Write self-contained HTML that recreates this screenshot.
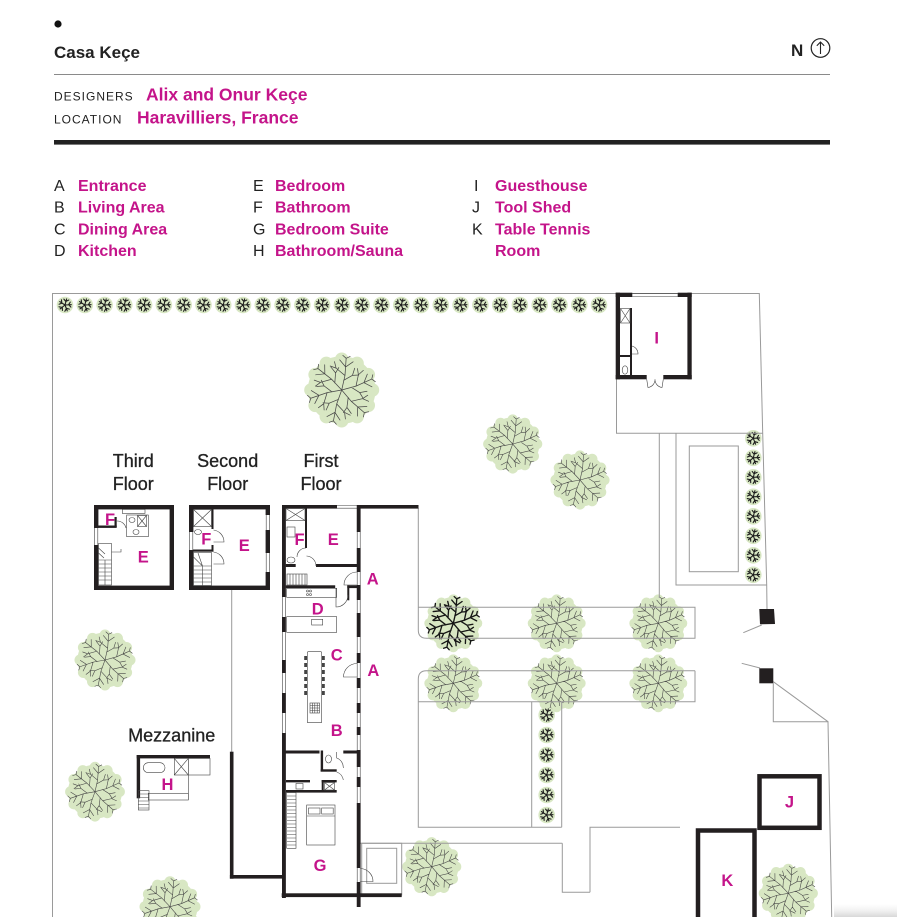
<!DOCTYPE html>
<html><head><meta charset="utf-8"><style>
html,body{margin:0;padding:0;background:#fff;}
svg{display:block;}
text{font-family:"Liberation Sans",sans-serif;}
</style></head><body>
<svg width="897" height="917" viewBox="0 0 897 917" xmlns="http://www.w3.org/2000/svg">
<defs>
<g id="br" fill="none" stroke-linecap="round">
<path d="M0 0 L1 -12 L0 -26 M1 -12 L-7 -17 L-9 -22 M-7 -17 L-12 -18 M0.5 -8 L7 -13 L8 -19 M7 -13 L12 -14 M0.6 -19 L-5 -24 M0.6 -19 L6 -24 M0 -26 L-3 -28 M0 -26 L3 -28"/>
</g>
<g id="blob" fill="#d8e7c3">
<circle r="27.5"/>
<circle cx="0" cy="-25" r="5.5"/><circle cx="12.5" cy="-21.6" r="5.5"/><circle cx="21.6" cy="-12.5" r="5.5"/><circle cx="25" cy="0" r="5.5"/>
<circle cx="21.6" cy="12.5" r="5.5"/><circle cx="12.5" cy="21.6" r="5.5"/><circle cx="0" cy="25" r="5.5"/><circle cx="-12.5" cy="21.6" r="5.5"/>
<circle cx="-21.6" cy="12.5" r="5.5"/><circle cx="-25" cy="0" r="5.5"/><circle cx="-21.6" cy="-12.5" r="5.5"/><circle cx="-12.5" cy="-21.6" r="5.5"/>
</g>
<g id="tree">
<use href="#blob"/>
<g stroke="#474747" stroke-width="0.6">
<use href="#br" transform="rotate(8)"/><use href="#br" transform="rotate(70)"/><use href="#br" transform="rotate(135)"/>
<use href="#br" transform="rotate(195)"/><use href="#br" transform="rotate(255)"/><use href="#br" transform="rotate(312)"/>
</g>
</g>
<g id="treeD">
<use href="#blob"/>
<g stroke="#151515" stroke-width="1.4">
<use href="#br" transform="rotate(8)"/><use href="#br" transform="rotate(70)"/><use href="#br" transform="rotate(135)"/>
<use href="#br" transform="rotate(195)"/><use href="#br" transform="rotate(255)"/><use href="#br" transform="rotate(312)"/>
</g>
</g>
<g id="sb"><path d="M0 0 L0 -6.3 M0 -3.5 L-2.6 -5.4 M0 -3.8 L2.4 -5.8"/></g>
<g id="sh">
<circle r="8.3" fill="#d8e7c3"/>
<g stroke="#1d1d1d" stroke-width="1.1" fill="none" stroke-linecap="round">
<use href="#sb" transform="rotate(15)"/><use href="#sb" transform="rotate(87)"/><use href="#sb" transform="rotate(159)"/><use href="#sb" transform="rotate(231)"/><use href="#sb" transform="rotate(303)"/>
</g>
</g>
<linearGradient id="shd" x1="0" y1="0" x2="0" y2="1">
<stop offset="0" stop-color="#ececec" stop-opacity="0"/>
<stop offset="1" stop-color="#d8d8d8" stop-opacity="1"/>
</linearGradient>
</defs>

<!-- HEADER -->
<circle cx="58" cy="24" r="3.6" fill="#111"/>
<text x="54" y="58" font-size="17" font-weight="bold" fill="#222">Casa Keçe</text>
<text x="791" y="56" font-size="17" font-weight="bold" fill="#222">N</text>
<circle cx="820.5" cy="48" r="9.3" fill="none" stroke="#222" stroke-width="1.2"/>
<path d="M820.5 54 V42 M816.8 45.8 L820.5 42 L824.2 45.8" fill="none" stroke="#222" stroke-width="1.1"/>
<line x1="54" y1="74.5" x2="830" y2="74.5" stroke="#8a8a8a" stroke-width="1"/>
<text x="54" y="100.7" font-size="12" letter-spacing="1" fill="#222">DESIGNERS</text>
<text x="146" y="100.7" font-size="17.5" font-weight="bold" fill="#c4148a">Alix and Onur Keçe</text>
<text x="54" y="123.3" font-size="12" letter-spacing="1" fill="#222">LOCATION</text>
<text x="137" y="123.3" font-size="17.5" font-weight="bold" fill="#c4148a">Haravilliers, France</text>
<rect x="54" y="140" width="776" height="4.6" fill="#222"/>

<!-- LEGEND -->
<g font-size="16" fill="#222">
<text x="54" y="191">A</text><text x="54" y="212.7">B</text><text x="54" y="234.3">C</text><text x="54" y="256">D</text>
<text x="253" y="191">E</text><text x="253" y="212.7">F</text><text x="253" y="234.3">G</text><text x="253" y="256">H</text>
<text x="474" y="191">I</text><text x="472" y="212.7">J</text><text x="472" y="234.3">K</text>
</g>
<g font-size="16" font-weight="bold" fill="#c4148a">
<text x="78" y="191">Entrance</text><text x="78" y="212.7">Living Area</text><text x="78" y="234.3">Dining Area</text><text x="78" y="256">Kitchen</text>
<text x="275" y="191">Bedroom</text><text x="275" y="212.7">Bathroom</text><text x="275" y="234.3">Bedroom Suite</text><text x="275" y="256">Bathroom/Sauna</text>
<text x="495" y="191">Guesthouse</text><text x="495" y="212.7">Tool Shed</text><text x="495" y="234.3">Table Tennis</text><text x="495" y="256">Room</text>
</g>

<!-- TREES -->
<use href="#tree" transform="translate(341.7,390) scale(1.23)"/>
<use href="#tree" transform="translate(512.7,444) scale(0.97)"/>
<use href="#tree" transform="translate(580,480) scale(0.97)"/>
<use href="#tree" transform="translate(105,660) scale(1)"/>
<use href="#tree" transform="translate(95,791.7) scale(0.98)"/>
<use href="#tree" transform="translate(170,906.7) scale(1)"/>
<use href="#treeD" transform="translate(453.3,623.3) scale(0.95)"/>
<use href="#tree" transform="translate(556.7,623.3) scale(0.95)"/>
<use href="#tree" transform="translate(658.3,623.3) scale(0.95)"/>
<use href="#tree" transform="translate(453.3,683.3) scale(0.95)"/>
<use href="#tree" transform="translate(556.7,683.3) scale(0.95)"/>
<use href="#tree" transform="translate(658.3,683.3) scale(0.95)"/>
<use href="#tree" transform="translate(431.7,866.7) scale(0.97)"/>
<use href="#tree" transform="translate(788.3,893.3) scale(0.97)"/>

<!-- SHRUBS top row -->
<g>
<use href="#sh" x="65" y="305"/><use href="#sh" x="84.8" y="305"/><use href="#sh" x="104.6" y="305"/><use href="#sh" x="124.3" y="305"/>
<use href="#sh" x="144.1" y="305"/><use href="#sh" x="163.9" y="305"/><use href="#sh" x="183.7" y="305"/><use href="#sh" x="203.5" y="305"/>
<use href="#sh" x="223.2" y="305"/><use href="#sh" x="243" y="305"/><use href="#sh" x="262.8" y="305"/><use href="#sh" x="282.6" y="305"/>
<use href="#sh" x="302.4" y="305"/><use href="#sh" x="322.1" y="305"/><use href="#sh" x="341.9" y="305"/><use href="#sh" x="361.7" y="305"/>
<use href="#sh" x="381.5" y="305"/><use href="#sh" x="401.3" y="305"/><use href="#sh" x="421" y="305"/><use href="#sh" x="440.8" y="305"/>
<use href="#sh" x="460.6" y="305"/><use href="#sh" x="480.4" y="305"/><use href="#sh" x="500.2" y="305"/><use href="#sh" x="519.9" y="305"/>
<use href="#sh" x="539.7" y="305"/><use href="#sh" x="559.5" y="305"/><use href="#sh" x="579.3" y="305"/><use href="#sh" x="599" y="305"/>
</g>
<!-- pool shrubs -->
<g>
<use href="#sh" x="753.3" y="438.3"/><use href="#sh" x="753.3" y="457.8"/><use href="#sh" x="753.3" y="477.3"/><use href="#sh" x="753.3" y="496.8"/>
<use href="#sh" x="753.3" y="516.3"/><use href="#sh" x="753.3" y="535.8"/><use href="#sh" x="753.3" y="555.3"/><use href="#sh" x="753.3" y="574.8"/>
</g>
<!-- path shrubs -->
<g>
<use href="#sh" x="546.7" y="715"/><use href="#sh" x="546.7" y="735"/><use href="#sh" x="546.7" y="755"/>
<use href="#sh" x="546.7" y="775"/><use href="#sh" x="546.7" y="795"/><use href="#sh" x="546.7" y="815"/>
</g>

<!-- SITE LINES -->
<g fill="none" stroke="#9a9a9a" stroke-width="1">
<path d="M52.5 917 V293.5 H759.3 L762.7 433.3 L766.7 585 L767 609"/>
<path d="M616.5 379 V433.3 H762.7"/>
<path d="M659.3 433.3 V598"/>
<path d="M676 433.3 V585 H766.7"/>
<rect x="689.3" y="446" width="49" height="125.7"/>
<path d="M418.3 508 V630 Q418.3 638.3 426.5 638.3 H695 V607.3 H418.3"/>
<path d="M695 670.7 H426.5 Q418.3 670.7 418.3 679 V827.3 H561.7 M695 670.7 V701.7 H418.3"/>
<path d="M531.7 701.7 V827.3 M561.7 701.7 V827.3"/>
<path d="M590 892.3 V827.3 H680 M562.3 843.3 V892.3 H590 M360 843.3 H562.3"/>
<rect x="361.7" y="843.3" width="40" height="51.7"/>
<rect x="366.7" y="848.3" width="30" height="35"/>
<path d="M761.7 625 L743.3 632.7 M741.7 663.3 L760 668"/>
<path d="M773.3 683.3 V721.7 H828 L831.7 917 M773.3 681.7 L828 721.7"/>
<path d="M231.7 590 V752"/>
</g>
<polygon points="759.3,609 774,609 775,624 760,624.3" fill="#231f20"/>
<rect x="759.3" y="668.3" width="14" height="15" fill="#231f20"/>

<!-- GUESTHOUSE I -->
<g fill="#231f20">
<rect x="615.7" y="292.7" width="16.6" height="4.3"/>
<rect x="677.7" y="292.7" width="14" height="4.3"/>
<rect x="615.7" y="292.7" width="4.3" height="86.6"/>
<rect x="687.4" y="292.7" width="4.3" height="86.6"/>
<rect x="615.7" y="375" width="31" height="4.3"/>
<rect x="663.3" y="375" width="28.4" height="4.3"/>
<rect x="630" y="308" width="2" height="69"/>
<rect x="619.5" y="355" width="12" height="2"/>
</g>
<g fill="none" stroke="#444" stroke-width="0.6">
<path d="M632 293.3 H678 M632 296.5 H678"/>
<rect x="620.5" y="308.5" width="9.5" height="14.5"/>
<path d="M620.5 308.5 L630 323 M630 308.5 L620.5 323"/>
<ellipse cx="625" cy="370" rx="2.8" ry="4.2"/>
<path d="M632 346 A8 8 0 0 1 638 354 H632"/>
<path d="M646.7 379.3 L648 387.5 A8 8 0 0 0 655 379.3 M663.3 379.3 L662 387.5 A8 8 0 0 1 655 379.3"/>
</g>

<!-- J & K -->
<rect x="759.5" y="776.3" width="60" height="51.5" fill="none" stroke="#231f20" stroke-width="4.5"/>
<rect x="698" y="830.5" width="56.5" height="120" fill="none" stroke="#231f20" stroke-width="4.5"/>

<!-- THIRD FLOOR -->
<g fill="#231f20">
<rect x="94" y="505" width="80" height="4.4"/>
<rect x="94" y="585.6" width="80" height="4.4"/>
<rect x="169.6" y="505" width="4.4" height="85"/>
<rect x="94" y="505" width="4.4" height="23"/>
<rect x="94" y="545" width="4.4" height="45"/>
<rect x="98" y="525.5" width="18.7" height="2.4"/>
<rect x="114.5" y="517" width="2.2" height="10"/>
</g>
<g fill="none" stroke="#444" stroke-width="0.6">
<path d="M94.6 528 V545 M97.8 528 V545"/>
<rect x="122.3" y="509.4" width="22.7" height="4"/>
<rect x="126.7" y="515" width="21.6" height="21.7"/>
<ellipse cx="132" cy="520" rx="3" ry="2.5"/>
<rect x="137.5" y="515.5" width="9" height="11"/>
<path d="M137.5 515.5 L146.5 526.5 M146.5 515.5 L137.5 526.5"/>
<ellipse cx="136" cy="532" rx="3" ry="2.5"/>
<path d="M117 521 A9 9 0 0 1 126 528"/>
<rect x="98.5" y="543.5" width="13" height="41.5"/>
<path d="M98.5 560 H111.5 M98.5 564 H111.5 M98.5 568 H111.5 M98.5 572 H111.5 M98.5 576 H111.5 M98.5 580 H111.5 M105 560 V585 M98.5 548 L105 554 M98.5 553 L104 558 M111.5 552 H121 V549"/>
</g>

<!-- SECOND FLOOR -->
<g fill="#231f20">
<rect x="189" y="505" width="81" height="4.4"/>
<rect x="189" y="585.6" width="81" height="4.4"/>
<rect x="189" y="505" width="4.4" height="27"/>
<rect x="189" y="550" width="4.4" height="40"/>
<rect x="265.6" y="505" width="4.4" height="10"/>
<rect x="265.6" y="530" width="4.4" height="23"/>
<rect x="265.6" y="572" width="4.4" height="18"/>
<rect x="211.5" y="505" width="2" height="24"/>
<rect x="193" y="549.5" width="20.5" height="2.2"/>
<rect x="211.5" y="545" width="2" height="6"/>
</g>
<g fill="none" stroke="#444" stroke-width="0.6">
<path d="M189.6 532 V550 M192.8 532 V550 M266.2 515 V530 M269.4 515 V530 M266.2 553 V572 M269.4 553 V572"/>
<rect x="193.5" y="509.5" width="18" height="17"/>
<path d="M193.5 509.5 L211.5 526.5 M211.5 509.5 L193.5 526.5"/>
<ellipse cx="198" cy="532" rx="3.5" ry="2.5"/>
<path d="M213.5 530 A12 12 0 0 1 224 542 H213.5"/>
<path d="M213.5 552 A12 12 0 0 1 224 564 H213.5"/>
<rect x="193.5" y="552.5" width="18" height="33"/>
<path d="M193.5 566 H211.5 M193.5 570 H211.5 M193.5 574 H211.5 M193.5 578 H211.5 M193.5 582 H211.5 M202.5 566 V585.5 M193.5 557 L202.5 566 M198 553 L202.5 566"/>
</g>

<!-- MEZZANINE -->
<g fill="#231f20">
<rect x="136.7" y="755" width="73.3" height="3.4"/>
<rect x="136.7" y="755" width="3.4" height="43.3"/>
</g>
<g fill="none" stroke="#444" stroke-width="0.6">
<rect x="143.3" y="762.7" width="21.7" height="10" rx="5"/>
<rect x="174.3" y="758.4" width="14" height="16.6"/>
<path d="M174.3 758.4 L188.3 775 M188.3 758.4 L174.3 775"/>
<rect x="188.3" y="758.4" width="21.7" height="16.6"/>
<path d="M188.3 775 V800"/>
<rect x="148.3" y="793.3" width="40" height="6.7"/>
<rect x="138.3" y="790.7" width="10.7" height="19.3"/>
<path d="M138.3 794 H149 M138.3 797.5 H149 M138.3 801 H149 M138.3 804.5 H149 M138.3 808 H149"/>
</g>

<!-- GARDEN WALL -->
<rect x="229.9" y="751.7" width="3.6" height="127" fill="#231f20"/>
<rect x="229.9" y="875" width="53" height="3.6" fill="#231f20"/>

<!-- MAIN HOUSE (FIRST FLOOR) -->
<g fill="none" stroke="#444" stroke-width="0.6">
<path d="M337 505.5 H357 M337 508.2 H357"/>
<path d="M282.6 505 V898 M285.4 505 V898"/>
<path d="M357.2 505 V907 M360.2 505 V907"/>
</g>
<g fill="#231f20">
<rect x="282" y="505" width="55" height="3.6"/>
<rect x="357" y="505" width="61.5" height="3.6"/>
<rect x="282" y="505" width="3.8" height="92"/>
<rect x="282" y="617" width="3.8" height="15"/>
<rect x="282" y="660" width="3.8" height="13"/>
<rect x="282" y="693" width="3.8" height="20"/>
<rect x="282" y="733" width="3.8" height="165"/>
<rect x="356.8" y="505" width="3.8" height="27"/>
<rect x="356.8" y="548" width="3.8" height="24"/>
<rect x="356.8" y="585" width="3.8" height="15"/>
<rect x="356.8" y="613" width="3.8" height="24"/>
<rect x="356.8" y="653" width="3.8" height="10"/>
<rect x="356.8" y="678" width="3.8" height="10"/>
<rect x="356.8" y="703" width="3.8" height="10"/>
<rect x="356.8" y="727" width="3.8" height="8"/>
<rect x="356.8" y="750" width="3.8" height="17"/>
<rect x="356.8" y="777" width="3.8" height="10"/>
<rect x="356.8" y="803" width="3.8" height="65"/>
<rect x="356.8" y="882" width="3.8" height="25"/>
<rect x="305" y="505" width="2" height="43"/>
<rect x="316" y="564" width="42" height="3"/>
<rect x="285.7" y="564" width="10" height="3"/>
<rect x="285.7" y="585.3" width="49.5" height="2.8"/>
<rect x="347.3" y="585.3" width="10" height="2.8"/>
<rect x="347.3" y="585.3" width="2" height="15"/>
<rect x="282" y="750.5" width="37.5" height="3"/>
<rect x="320.7" y="750.5" width="2.4" height="21"/>
<rect x="320.7" y="769.3" width="16" height="2.4"/>
<rect x="343.3" y="750.5" width="14" height="3"/>
<rect x="286" y="780" width="24" height="2.4"/>
<rect x="321.7" y="780" width="15" height="2.4"/>
<rect x="321.7" y="780" width="2" height="12"/>
<rect x="286" y="790" width="50.7" height="2.6"/>
<rect x="281.7" y="893.3" width="120" height="3.8"/>
</g>
<g fill="none" stroke="#444" stroke-width="0.6">
<path d="M357 572 A13 13 0 0 0 344 585 H357"/>
<path d="M357 663.5 A13.5 13.5 0 0 0 343.5 677 H357"/>
<path d="M360.6 868.5 A13 13 0 0 1 373 881.5 H360.6"/>
<path d="M306.5 556 A10 10 0 0 1 316 566"/>
<path d="M306 548 A9 9 0 0 0 297 557"/>
<path d="M336 588 V607 A12 12 0 0 0 348 595"/>
<path d="M336.7 752 V758 A10 10 0 0 1 343.3 768 M336.7 772 A10 10 0 0 1 343.3 780"/>
<rect x="286" y="508.5" width="19" height="12"/>
<path d="M286 508.5 L305 520.5 M305 508.5 L286 520.5"/>
<rect x="287" y="527" width="8" height="10"/>
<ellipse cx="291" cy="560" rx="4" ry="3"/>
<rect x="287" y="574" width="20" height="11"/>
<path d="M290 574 V585 M293 574 V585 M296 574 V585 M299 574 V585 M302 574 V585 M305 574 V585"/>
<rect x="286.7" y="588.3" width="50" height="9"/>
<circle cx="307.5" cy="591" r="1"/><circle cx="310.5" cy="591" r="1"/><circle cx="307.5" cy="594.5" r="1"/><circle cx="310.5" cy="594.5" r="1"/>
<rect x="286.7" y="616.7" width="50" height="15.6"/>
<rect x="311.7" y="619.3" width="11" height="5.7"/>
<rect x="307.3" y="651.7" width="14.4" height="71" rx="1"/>
<rect x="310" y="703" width="9.5" height="10"/>
<path d="M312.4 703 V713 M314.8 703 V713 M317.2 703 V713 M310 705.5 H319.5 M310 708 H319.5 M310 710.5 H319.5"/>
<ellipse cx="328.5" cy="759" rx="3" ry="4"/>
<rect x="296" y="783.5" width="7" height="5.5"/>
<rect x="324.5" y="782.5" width="10" height="7.5"/>
<path d="M324.5 782.5 L334.5 790 M334.5 782.5 L324.5 790"/>
<rect x="286.7" y="792.5" width="9.3" height="55.8"/>
<path d="M286.7 796 H296 M286.7 799.5 H296 M286.7 803 H296 M286.7 806.5 H296 M286.7 810 H296 M286.7 813.5 H296 M286.7 817 H296 M286.7 820.5 H296 M286.7 824 H296 M286.7 827.5 H296 M286.7 831 H296 M286.7 834.5 H296 M286.7 838 H296 M286.7 841.5 H296 M286.7 845 H296"/>
<rect x="306.7" y="805" width="28.3" height="40"/>
<rect x="308.5" y="808" width="11.5" height="6"/>
<rect x="321.7" y="808" width="11.5" height="6"/>
<path d="M306.7 816 H335"/>
</g>
<g fill="#444">
<rect x="304.2" y="656" width="3" height="4"/><rect x="304.2" y="663" width="3" height="4"/><rect x="304.2" y="670" width="3" height="4"/><rect x="304.2" y="677" width="3" height="4"/><rect x="304.2" y="684" width="3" height="4"/><rect x="304.2" y="691" width="3" height="4"/>
<rect x="321.8" y="656" width="3" height="4"/><rect x="321.8" y="663" width="3" height="4"/><rect x="321.8" y="670" width="3" height="4"/><rect x="321.8" y="677" width="3" height="4"/><rect x="321.8" y="684" width="3" height="4"/><rect x="321.8" y="691" width="3" height="4"/>
</g>

<!-- FLOOR LABELS -->
<g font-size="18" fill="#222" stroke="#222" stroke-width="0.3" text-anchor="middle">
<text x="133.3" y="467">Third</text><text x="133.3" y="490">Floor</text>
<text x="227.7" y="467">Second</text><text x="227.7" y="490">Floor</text>
<text x="321" y="467">First</text><text x="321" y="490">Floor</text>
<text x="171.7" y="741.7">Mezzanine</text>
</g>

<!-- ROOM LETTERS -->
<g font-size="16.5" font-weight="bold" fill="#c4148a" text-anchor="middle">
<text x="656.7" y="343.3">I</text>
<text x="110" y="525">F</text><text x="143.3" y="562.7">E</text>
<text x="206.3" y="544.3">F</text><text x="244.3" y="551">E</text>
<text x="299.5" y="545">F</text><text x="333.3" y="545">E</text>
<text x="372.7" y="584.5">A</text>
<text x="317.7" y="614.3">D</text>
<text x="336.7" y="660.3">C</text>
<text x="373.3" y="676">A</text>
<text x="336.7" y="736">B</text>
<text x="320" y="871">G</text>
<text x="167.5" y="790">H</text>
<text x="789.5" y="807.5">J</text>
<text x="727.3" y="886">K</text>
</g>

<rect x="834" y="904" width="63" height="13" fill="url(#shd)"/>
</svg>
</body></html>
